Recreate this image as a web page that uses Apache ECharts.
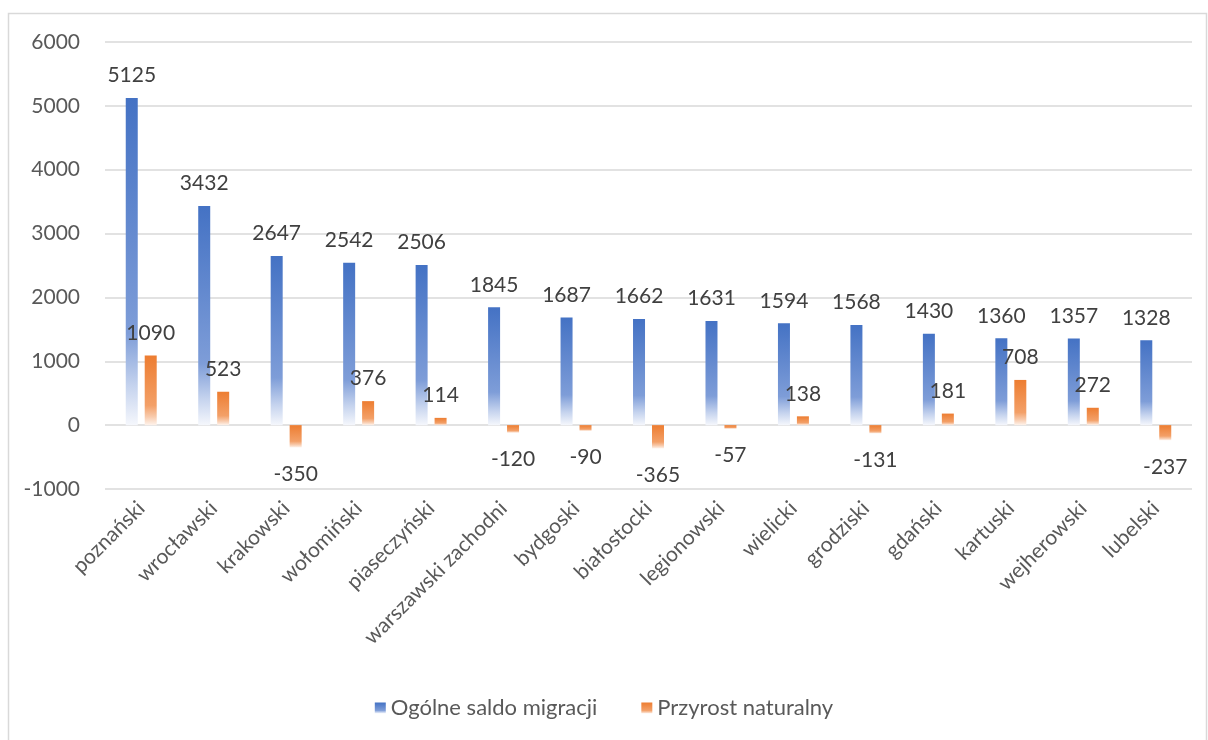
<!DOCTYPE html>
<html>
<head>
<meta charset="utf-8">
<script src="https://cdn.jsdelivr.net/npm/echarts@6/dist/echarts.min.js"></script>
<style>
  html, body { margin: 0; padding: 0; background: #fff; }
  #chart { width: 1208px; height: 740px; }
</style>
</head>
<body>
<div id="chart"></div>
<script>
let powiaty = ['poznański', 'wrocławski', 'krakowski', 'wołomiński', 'piaseczyński', 'warszawski zachodni',
    'bydgoski', 'białostocki', 'legionowski', 'wielicki', 'grodziski', 'gdański', 'kartuski', 'wejherowski', 'lubelski'];
let saldoMigracji = [5125, 3432, 2647, 2542, 2506, 1845, 1687, 1662, 1631, 1594, 1568, 1430, 1360, 1357, 1328];
let przyrostNaturalny = [1090, 523, -350, 376, 114, -120, -90, -365, -57, 138, -131, 181, 708, 272, -237];
let seriesNames = ['Ogólne saldo migracji', 'Przyrost naturalny'];

let fontFamily = 'Lato, "Open Sans", sans-serif';

function fade(top, mid, light, end) {
    return new echarts.graphic.LinearGradient(0, 0, 0, 1, [
        { offset: 0, color: top },
        { offset: 0.72, color: mid },
        { offset: 0.88, color: light },
        { offset: 1, color: end }
    ]);
}
let blueFill = fade('#4472C4', '#7E9DD8', '#C5D3EE', '#F5F7FC');
let orangeFill = fade('#ED7D31', '#F3A068', '#F8CBAD', '#FEF3EC');

// negative bars get their label below the bar
function withLabels(values) {
    return values.map(function (v) {
        let item = { value: v };
        if (v < 0) {
            item.label = { position: 'bottom', distance: 16 };
        }
        return item;
    });
}

let labelStyle = {
    show: true,
    position: 'top',
    distance: 12,
    color: '#404040',
    fontSize: 21,
    fontFamily: fontFamily
};

let chart = echarts.init(document.getElementById('chart'));
chart.setOption({
    animation: false,
    backgroundColor: '#fff',
    graphic: [{
        type: 'polyline',
        silent: true,
        shape: { points: [[8.5, 760], [8.5, 13.5], [1206.5, 13.5], [1206.5, 760]] },
        style: { stroke: '#d9d9d9', lineWidth: 1.5, fill: null }
    }],
    grid: {
        left: 105,
        right: 16,
        top: 42,
        height: 447,
        containLabel: false
    },
    legend: {
        bottom: 16,
        left: 'center',
        itemWidth: 11,
        itemHeight: 11,
        itemGap: 44,
        icon: 'rect',
        textStyle: { color: '#595959', fontSize: 22, fontFamily: fontFamily },
        data: seriesNames
    },
    xAxis: {
        type: 'category',
        data: powiaty,
        axisLine: { show: false },
        axisTick: { show: false },
        axisLabel: {
            rotate: 45,
            interval: 0,
            margin: 16,
            color: '#595959',
            fontSize: 21,
            fontFamily: fontFamily
        }
    },
    yAxis: {
        type: 'value',
        min: -1000,
        max: 6000,
        interval: 1000,
        axisLine: { show: false },
        axisTick: { show: false },
        axisLabel: {
            margin: 25,
            color: '#595959',
            fontSize: 21,
            fontFamily: fontFamily,
            formatter: function (value) {
                return String(value);
            }
        },
        splitLine: { lineStyle: { color: '#d9d9d9', width: 1.5 } }
    },
    series: [{
        name: seriesNames[0],
        type: 'bar',
        barWidth: 12,
        barGap: '58%',
        itemStyle: { color: blueFill },
        label: labelStyle,
        data: withLabels(saldoMigracji)
    }, {
        name: seriesNames[1],
        type: 'bar',
        barWidth: 12,
        itemStyle: { color: orangeFill },
        label: labelStyle,
        data: withLabels(przyrostNaturalny)
    }]
});
</script>
</body>
</html>
